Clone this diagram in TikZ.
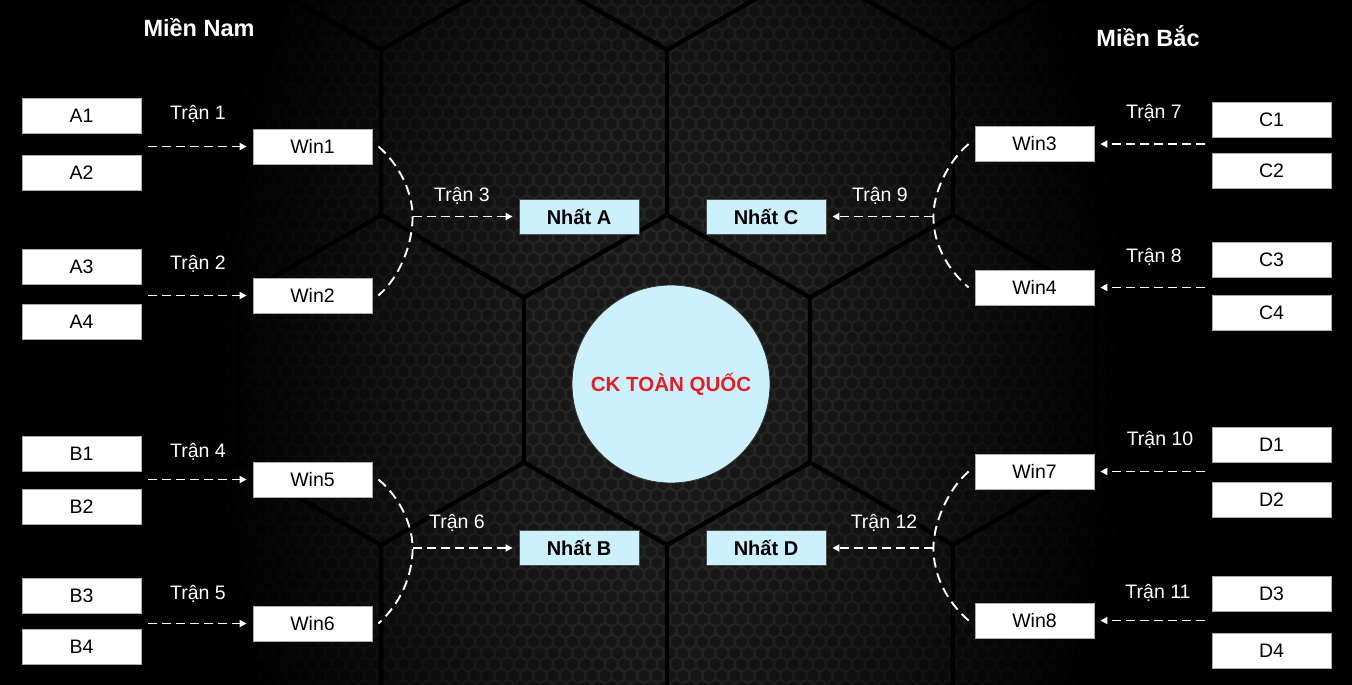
\documentclass[tikz,border=0pt]{standalone}
\usepackage{fontspec}
\setmainfont{Liberation Sans}
\usetikzlibrary{arrows.meta,calc}
\definecolor{paleblue}{RGB}{204,240,252}
\definecolor{tilegray}{RGB}{40,40,40}
\definecolor{cupred}{RGB}{232,28,36}
\pgfdeclareradialshading{bgglow}{\pgfpointorigin}{color(0bp)=(tilegray); color(8bp)=(tilegray!90!black); color(25bp)=(black); color(50bp)=(black)}
\newcommand\boxfont{\fontsize{19.5}{23}\selectfont}
\newcommand\champfont{\fontsize{20}{24}\selectfont\bfseries}
\newcommand\titlefont{\fontsize{23.5}{28}\selectfont\bfseries}
\begin{document}
\begin{tikzpicture}[x=1pt,y=-1pt,
  team/.style={draw=gray!65,line width=.8pt,fill=white,minimum width=119pt,minimum height=35pt,inner sep=0pt,font=\boxfont},
  champ/.style={draw=black!70,line width=.8pt,fill=paleblue,minimum width=120pt,minimum height=35pt,inner sep=0pt,font=\champfont},
  match/.style={text=white,font=\boxfont},
  region/.style={text=white,font=\titlefont},
  feed/.style={white,line width=1.9pt,dash pattern=on 9pt off 5pt,-{Triangle[length=7pt,width=7pt]},shorten >=6pt},
  bracket/.style={white,line width=1.9pt,dash pattern=on 10pt off 6pt},
  tileedge/.style={black,line width=4pt,line join=round},
  hexhole/.style={black,fill opacity=.35}]
\useasboundingbox (0,0) rectangle (1352,685);
\fill[black] (0,0) rectangle (1352,685);
% honeycomb backdrop
\shade[shading=bgglow] (667,380) ellipse [x radius=470, y radius=780];
\fill[hexhole] \foreach \r in {0,...,61} { \foreach \c in {0,...,69} {
  ({215+13*\c+6.5*mod(\r,2)},{11.26*\r}) +(90:6) -- +(150:6) -- +(210:6) -- +(270:6) -- +(330:6) -- +(30:6) -- cycle } };
\foreach \cx/\cy in {95/380,381/380,667/380,953/380,1239/380,238/132.5,524/132.5,810/132.5,1096/132.5,
  238/627.5,524/627.5,810/627.5,1096/627.5,381/-115,667/-115,953/-115,381/875,667/875,953/875}
  \draw[tileedge] (\cx,\cy) +(90:165) -- +(150:165) -- +(210:165) -- +(270:165) -- +(330:165) -- +(30:165) -- cycle;

\node[region] (south) at (199,28) {Miền Nam};
\node[region] (north) at (1148,36) {Miền Bắc};

\foreach \n/\y in {A1/115.5,A2/172.5,A3/266.5,A4/321.5,B1/453.5,B2/506.5,B3/596,B4/646.5}
  \node[team] (\n) at (81.5,\y) {\n};
\foreach \n/\y in {C1/120,C2/170.5,C3/260,C4/312.5,D1/444.5,D2/499.5,D3/594,D4/650.5}
  \node[team] (\n) at (1271.5,\y) {\n};
\foreach \n/\x/\y in {Win1/312.5/146.5,Win2/312.5/295.5,Win5/312.5/479.5,Win6/312.5/623.5,
  Win3/1034.5/144,Win4/1034.5/287.5,Win7/1034.5/471.5,Win8/1034.5/620.5}
  \node[team] (\n) at (\x,\y) {\n};

\node[champ] (NA) at (579,216.5) {Nhất A}; \node[champ] (NB) at (579,548) {Nhất B};
\node[champ] (NC) at (766,216.5) {Nhất C}; \node[champ] (ND) at (766,548) {Nhất D};
\node[circle,draw=black!80,line width=.8pt,fill=paleblue,minimum size=198pt,inner sep=0pt,
  font=\fontsize{20.5}{24}\selectfont\bfseries,text=cupred] (final) at (671,384) {CK TOÀN QUỐC};

\node[match] (m1) at (198,114) {Trận 1}; \node[match] (m2) at (198,264) {Trận 2};
\node[match] (m4) at (198,452) {Trận 4}; \node[match] (m5) at (198,594) {Trận 5};
\node[match] (m3) at (462,196) {Trận 3}; \node[match] (m6) at (457,523) {Trận 6};
\node[match] (m9) at (880,196) {Trận 9}; \node[match] (m12) at (884,523) {Trận 12};
\node[match] (m7) at (1154,113) {Trận 7}; \node[match] (m8) at (1154,257) {Trận 8};
\node[match] (m10) at (1160,440) {Trận 10}; \node[match] (m11) at (1158,593) {Trận 11};

% first round
\foreach \a/\w in {A1/Win1,A3/Win2,B1/Win5,B3/Win6} {
  \coordinate (f\w) at ($(\a.east |- \w.west)+(7,0)$); \draw[feed] (f\w) -- (\w); }
\foreach \a/\w in {C1/Win3,C3/Win4,D1/Win7,D3/Win8} {
  \coordinate (f\w) at ($(\a.west |- \w.east)+(-7,0)$); \draw[feed] (f\w) -- (\w); }

% regional finals
\coordinate (jA) at ($(NA.west)+(-106,0)$); \coordinate (jB) at ($(NB.west)+(-106,0)$);
\coordinate (jC) at ($(NC.east)+(107,0)$); \coordinate (jD) at ($(ND.east)+(107,0)$);
\draw[bracket] ($(Win1.east)+(6,0)$) .. controls +(22,19) and +(0,-23) .. (jA) .. controls +(0,27) and +(22,-19) .. ($(Win2.east)+(6,0)$);
\draw[bracket] ($(Win5.east)+(6,0)$) .. controls +(22,18) and +(0,-22) .. (jB) .. controls +(0,28) and +(22,-20) .. ($(Win6.east)+(6,0)$);
\draw[bracket] ($(Win3.west)+(-6,0)$) .. controls +(-22,19) and +(0,-23) .. (jC) .. controls +(0,27) and +(-22,-19) .. ($(Win4.west)+(-6,0)$);
\draw[bracket] ($(Win7.west)+(-6,0)$) .. controls +(-22,19) and +(0,-23) .. (jD) .. controls +(0,27) and +(-22,-19) .. ($(Win8.west)+(-6,0)$);
\draw[feed] (jA) -- (NA); \draw[feed] (jB) -- (NB);
\draw[feed] (jC) -- (NC); \draw[feed] (jD) -- (ND);
\end{tikzpicture}
\end{document}
